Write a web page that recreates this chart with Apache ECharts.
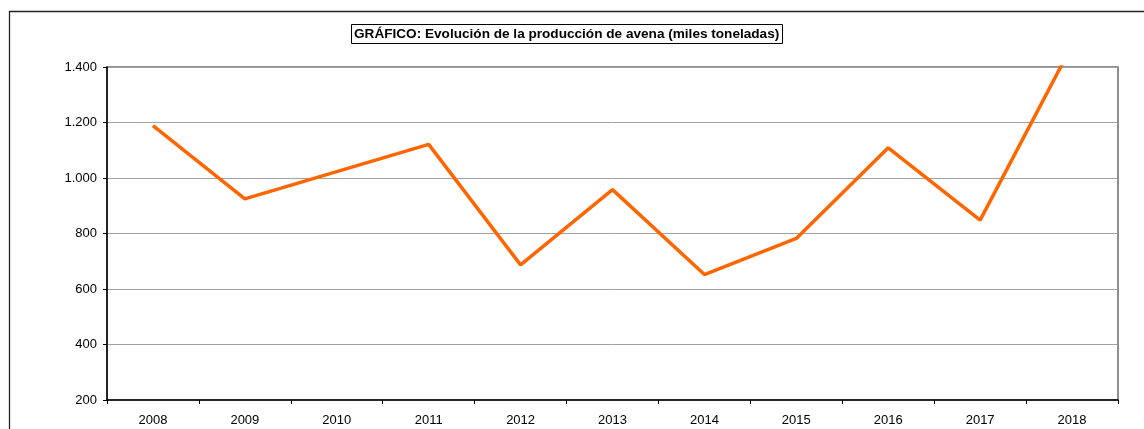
<!DOCTYPE html>
<html>
<head>
<meta charset="utf-8">
<script src="https://cdn.jsdelivr.net/npm/echarts@6/dist/echarts.min.js"></script>
<style>
  html, body { margin: 0; padding: 0; background: #fff; }
  #chart { width: 1144px; height: 429px; }
</style>
</head>
<body>
<div id="chart"></div>
<script>
// años y producción (miles de toneladas)
var years = ['2008', '2009', '2010', '2011', '2012', '2013', '2014', '2015', '2016', '2017', '2018'];
var produccion = [1189, 925, 1023, 1121, 687, 958, 652, 782, 1109, 848, 1478];
var yTicks = [200, 400, 600, 800, 1000, 1200, 1400];

var titulo = 'GRÁFICO: Evolución de la producción de avena (miles toneladas)';

function miles(v) {
  return String(v).replace(/\B(?=(\d{3})+(?!\d))/g, '.');
}

var chart = echarts.init(document.getElementById('chart'));
chart.setOption({
  backgroundColor: '#fff',
  animation: false,
  textStyle: { fontFamily: 'Liberation Sans, Arial, sans-serif' },
  graphic: [
    {
      type: 'rect',
      shape: { x: 9.5, y: 11.5, width: 1300, height: 600 },
      style: { fill: 'none', stroke: '#222', lineWidth: 1.3 },
      silent: true,
      z: -1
    }
  ],
  title: {
    text: titulo,
    left: 351,
    top: 24,
    padding: [3, 3, 3, 3],
    borderColor: '#000',
    borderWidth: 1,
    textStyle: { fontSize: 13.6, fontWeight: 'bold', color: '#000', fontFamily: 'Liberation Sans, Arial, sans-serif' }
  },
  grid: {
    left: 107,
    top: 67,
    right: 26,
    bottom: 29,
    show: true,
    borderColor: '#6a6a6a',
    borderWidth: 1.5,
    backgroundColor: 'transparent'
  },
  xAxis: {
    type: 'category',
    data: years,
    boundaryGap: true,
    axisLine: { lineStyle: { color: '#000', width: 1.5 } },
    axisTick: { show: true, length: 4, lineStyle: { color: '#000' } },
    axisLabel: { color: '#000', fontSize: 13, margin: 14 },
    splitLine: { show: false }
  },
  yAxis: {
    type: 'value',
    min: yTicks[0],
    max: yTicks[yTicks.length - 1],
    interval: 200,
    axisLine: { show: true, lineStyle: { color: '#000', width: 1.5 } },
    axisTick: { show: true, length: 4, lineStyle: { color: '#000' } },
    axisLabel: { color: '#000', fontSize: 13, margin: 10, formatter: miles },
    splitLine: { show: true, lineStyle: { color: '#a0a0a0', width: 1 } }
  },
  series: [
    {
      type: 'line',
      data: produccion,
      symbol: 'none',
      clip: true,
      lineStyle: { color: '#ff6600', width: 3.5 },
      itemStyle: { color: '#ff6600' }
    }
  ]
});
</script>
</body>
</html>
